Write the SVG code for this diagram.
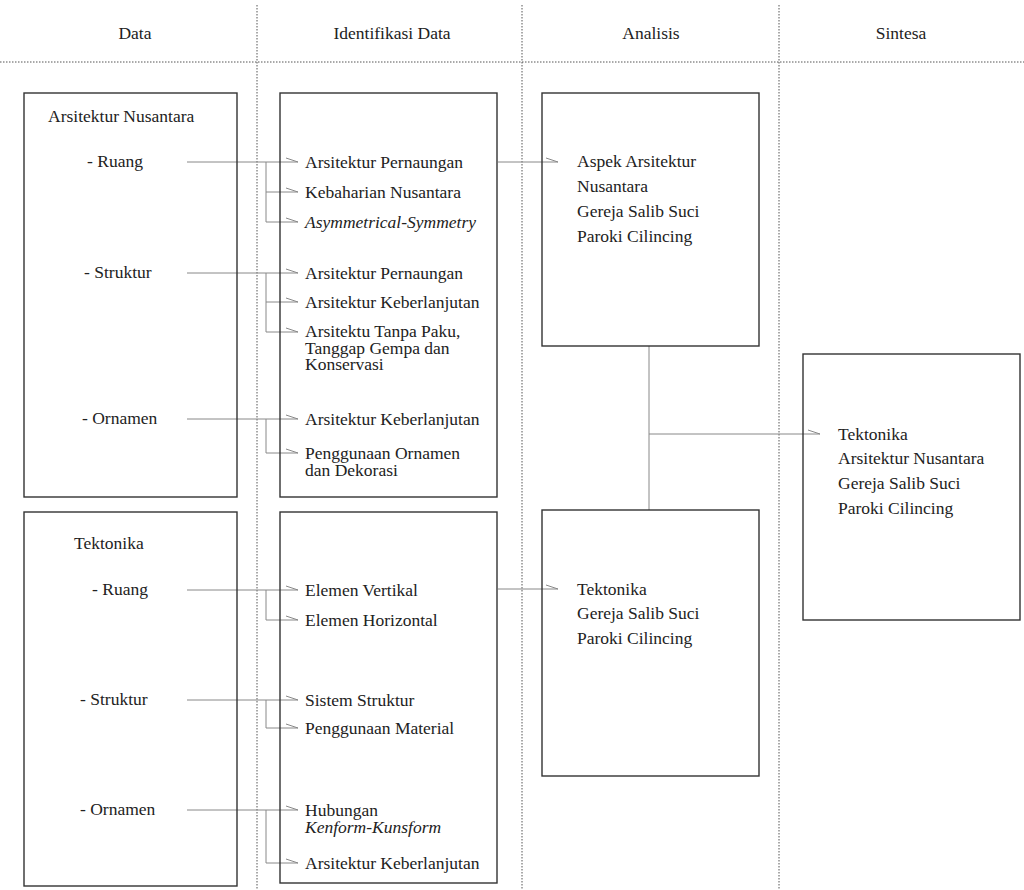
<svg xmlns="http://www.w3.org/2000/svg" width="1024" height="890" viewBox="0 0 1024 890" font-family="'Liberation Serif', 'DejaVu Serif', serif">
<style>
text{font-family:'Liberation Serif','DejaVu Serif',serif;font-size:17.5px;fill:#222}
.h{text-anchor:middle;font-size:17.5px}
.i{font-style:italic}
.box{fill:none;stroke:#333;stroke-width:1.4}
.dot{stroke:#555;stroke-width:1;stroke-dasharray:1.5 1.5;fill:none}
.c{stroke:#888;stroke-width:1;fill:none}
</style>
<defs>
<marker id="a" markerWidth="14" markerHeight="8" refX="12" refY="5" orient="auto" markerUnits="userSpaceOnUse">
<path d="M0,1 L12,5" stroke="#888" stroke-width="1" fill="none"/>
</marker>
</defs>
<rect width="1024" height="890" fill="#fff"/>
<g id="grid">
<line class="dot" x1="0" y1="62" x2="1024" y2="62"/>
<line class="dot" x1="257" y1="5" x2="257" y2="890"/>
<line class="dot" x1="522" y1="5" x2="522" y2="890"/>
<line class="dot" x1="779" y1="5" x2="779" y2="890"/>
<text class="h" x="135" y="39">Data</text>
<text class="h" x="392" y="39">Identifikasi Data</text>
<text class="h" x="651" y="39">Analisis</text>
<text class="h" x="901" y="39">Sintesa</text>
</g>
<g id="connectors">
<line class="c" x1="187" y1="162" x2="298" y2="162" marker-end="url(#a)"/>
<polyline class="c" points="266,162 266,222 298,222" marker-end="url(#a)"/>
<line class="c" x1="266" y1="192" x2="298" y2="192" marker-end="url(#a)"/>
<line class="c" x1="187" y1="273" x2="298" y2="273" marker-end="url(#a)"/>
<polyline class="c" points="266,273 266,332 298,332" marker-end="url(#a)"/>
<line class="c" x1="266" y1="302" x2="298" y2="302" marker-end="url(#a)"/>
<line class="c" x1="187" y1="419" x2="298" y2="419" marker-end="url(#a)"/>
<polyline class="c" points="266,419 266,453 298,453" marker-end="url(#a)"/>
<line class="c" x1="187" y1="590" x2="298" y2="590" marker-end="url(#a)"/>
<polyline class="c" points="266,590 266,620 298,620" marker-end="url(#a)"/>
<line class="c" x1="187" y1="700" x2="298" y2="700" marker-end="url(#a)"/>
<polyline class="c" points="266,700 266,728 298,728" marker-end="url(#a)"/>
<line class="c" x1="187" y1="810" x2="298" y2="810" marker-end="url(#a)"/>
<polyline class="c" points="266,810 266,863 298,863" marker-end="url(#a)"/>
<line class="c" x1="498" y1="162" x2="558" y2="162" marker-end="url(#a)"/>
<line class="c" x1="498" y1="589" x2="558" y2="589" marker-end="url(#a)"/>
<line class="c" x1="649" y1="346" x2="649" y2="510"/>
<line class="c" x1="649" y1="434" x2="820" y2="434" marker-end="url(#a)"/>
</g>
<g id="data-nusantara">
<rect class="box" x="24" y="93" width="213" height="404"/>
<text x="48" y="122">Arsitektur Nusantara</text>
<text x="87" y="167">- Ruang</text>
<text x="84" y="278">- Struktur</text>
<text x="82" y="424">- Ornamen</text>
</g>
<g id="data-tektonika">
<rect class="box" x="24" y="512" width="213" height="374"/>
<text x="74" y="549">Tektonika</text>
<text x="92" y="595">- Ruang</text>
<text x="80" y="705">- Struktur</text>
<text x="80" y="815">- Ornamen</text>
</g>
<g id="ident-nusantara">
<rect class="box" x="280" y="93" width="217" height="404"/>
<text x="305" y="168">Arsitektur Pernaungan</text>
<text x="305" y="198">Kebaharian Nusantara</text>
<text x="305" y="228" class="i">Asymmetrical-Symmetry</text>
<text x="305" y="279">Arsitektur Pernaungan</text>
<text x="305" y="308">Arsitektur Keberlanjutan</text>
<text x="305" y="337">Arsitektu Tanpa Paku,</text>
<text x="305" y="353.5">Tanggap Gempa dan</text>
<text x="305" y="370">Konservasi</text>
<text x="305" y="425">Arsitektur Keberlanjutan</text>
<text x="305" y="459">Penggunaan Ornamen</text>
<text x="305" y="475.5">dan Dekorasi</text>
</g>
<g id="ident-tektonika">
<rect class="box" x="280" y="512" width="217" height="371"/>
<text x="305" y="596">Elemen Vertikal</text>
<text x="305" y="626">Elemen Horizontal</text>
<text x="305" y="706">Sistem Struktur</text>
<text x="305" y="734">Penggunaan Material</text>
<text x="305" y="816">Hubungan</text>
<text x="305" y="832.5" class="i">Kenform-Kunsform</text>
<text x="305" y="869">Arsitektur Keberlanjutan</text>
</g>
<g id="analisis-nusantara">
<rect class="box" x="542" y="93" width="217" height="253"/>
<text x="577" y="167">Aspek Arsitektur</text>
<text x="577" y="192">Nusantara</text>
<text x="577" y="217">Gereja Salib Suci</text>
<text x="577" y="242">Paroki Cilincing</text>
</g>
<g id="analisis-tektonika">
<rect class="box" x="542" y="510" width="217" height="266"/>
<text x="577" y="595">Tektonika</text>
<text x="577" y="619">Gereja Salib Suci</text>
<text x="577" y="644">Paroki Cilincing</text>
</g>
<g id="sintesa">
<rect class="box" x="803" y="354" width="217" height="266"/>
<text x="838" y="440">Tektonika</text>
<text x="838" y="464">Arsitektur Nusantara</text>
<text x="838" y="489">Gereja Salib Suci</text>
<text x="838" y="514">Paroki Cilincing</text>
</g>
</svg>
